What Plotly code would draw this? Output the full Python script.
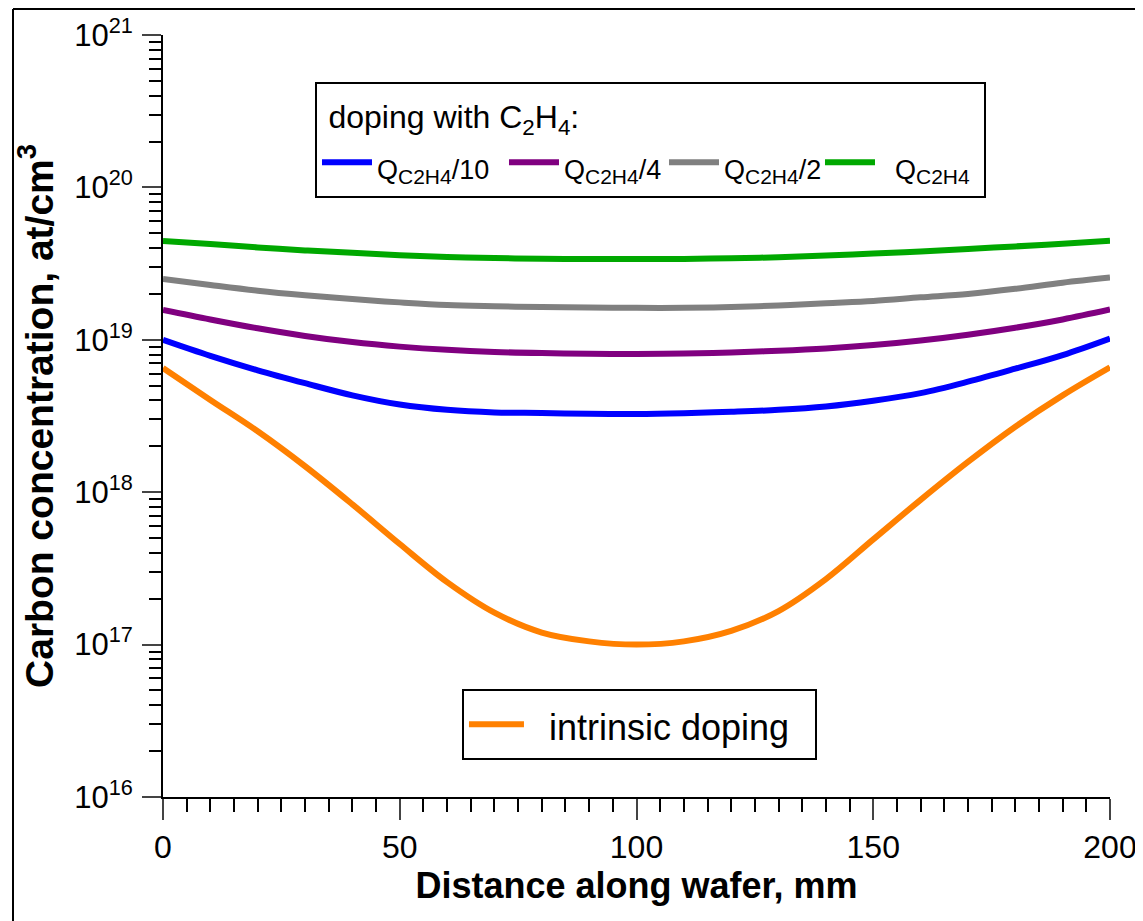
import plotly.graph_objects as go

# ---- data ----
x_mm = [0, 10, 20, 30, 40, 50, 60, 70, 80, 90, 100,
        110, 120, 130, 140, 150, 160, 170, 180, 190, 200]

q_div10 = [1.00e19, 7.85e18, 6.31e18, 5.19e18, 4.32e18, 3.76e18, 3.47e18, 3.34e18, 3.31e18, 3.27e18, 3.26e18,
           3.30e18, 3.37e18, 3.47e18, 3.65e18, 3.98e18, 4.47e18, 5.31e18, 6.46e18, 7.94e18, 1.02e19]
q_div4 = [1.57e19, 1.36e19, 1.19e19, 1.06e19, 9.66e18, 9.02e18, 8.59e18, 8.32e18, 8.18e18, 8.11e18, 8.07e18,
          8.13e18, 8.26e18, 8.47e18, 8.77e18, 9.23e18, 9.89e18, 1.08e19, 1.20e19, 1.36e19, 1.58e19]
q_div2 = [2.51e19, 2.29e19, 2.10e19, 1.96e19, 1.85e19, 1.76e19, 1.69e19, 1.66e19, 1.64e19, 1.63e19, 1.62e19,
          1.62e19, 1.64e19, 1.68e19, 1.74e19, 1.80e19, 1.90e19, 2.00e19, 2.16e19, 2.37e19, 2.56e19]
q_full = [4.45e19, 4.25e19, 4.04e19, 3.86e19, 3.72e19, 3.59e19, 3.50e19, 3.44e19, 3.40e19, 3.39e19, 3.39e19,
          3.39e19, 3.43e19, 3.48e19, 3.57e19, 3.68e19, 3.80e19, 3.95e19, 4.10e19, 4.27e19, 4.47e19]
intrinsic = [6.53e18, 4.03e18, 2.51e18, 1.48e18, 8.32e17, 4.57e17, 2.57e17, 1.62e17, 1.20e17, 1.05e17, 1.00e17,
             1.05e17, 1.23e17, 1.66e17, 2.69e17, 4.90e17, 8.91e17, 1.58e18, 2.69e18, 4.32e18, 6.60e18]

SUB = "<sub><span style='font-size:21px'>C2H4</span></sub>"
series_names = ["Q" + SUB + "/10", "Q" + SUB + "/4", "Q" + SUB + "/2", "\u00a0\u00a0Q" + SUB]
series_values = [q_div10, q_div4, q_div2, q_full]
series_colors = ["#0000FF", "#800080", "#808080", "#00A800"]
series_entry_px = [122, 95, 91, 99]

x_tickvals = [0, 50, 100, 150, 200]
y_exponents = [16, 17, 18, 19, 20, 21]

FONT = "Liberation Sans, Arial, sans-serif"

fig = go.Figure()
for name, vals, col, lw in zip(series_names, series_values, series_colors, series_entry_px):
    fig.add_trace(go.Scatter(x=x_mm, y=vals, mode="lines",
                             name="<span style='font-size:27px'>" + name + "</span>",
                             line=dict(color=col, width=6, shape="spline"),
                             legend="legend", legendwidth=lw))
fig.add_trace(go.Scatter(x=x_mm, y=intrinsic, mode="lines",
                         name="<span style='font-size:36px'>\u00a0\u00a0intrinsic doping\u00a0\u00a0</span>",
                         line=dict(color="#FF8000", width=6, shape="spline"),
                         legend="legend2"))

y_major = [10.0 ** e for e in y_exponents]
y_text = ["10<sup>%d</sup>" % e for e in y_exponents]
y_minor = [k * 10.0 ** e for e in y_exponents[:-1] for k in range(2, 10)]

# the page body adds an 8 px offset, so the figure is 8 px smaller
W, H = 1135, 913
L, R, T, B = 155, 33, 27, 124

fig.update_layout(
    width=W, height=H,
    margin=dict(l=L, r=R, t=T, b=B),
    paper_bgcolor="white", plot_bgcolor="white",
    font=dict(family=FONT, color="black"),
    xaxis=dict(range=[0, 200], tickvals=x_tickvals, ticks="outside", ticklen=21, tickwidth=2,
               showline=True, linecolor="black", linewidth=2, showgrid=False, zeroline=False,
               tickfont=dict(size=32, family=FONT), ticklabelstandoff=0, automargin=False,
               minor=dict(dtick=5, ticks="outside", ticklen=13, tickwidth=2, tickcolor="black", showgrid=False),
               title=dict(text="<b>Distance along wafer, mm</b>", font=dict(size=36, family=FONT), standoff=0)),
    yaxis=dict(type="log", range=[16, 21], tickvals=y_major, ticktext=y_text,
               ticks="outside", ticklen=19, tickwidth=2,
               showline=True, linecolor="black", linewidth=2, showgrid=False, zeroline=False,
               tickfont=dict(size=31, family=FONT), ticklabelstandoff=3, automargin=False,
               minor=dict(tickvals=y_minor, ticks="outside", ticklen=12, tickwidth=2, tickcolor="black", showgrid=False),
               title=dict(text="<b>Carbon concentration, at/cm<sup>3</sup></b>", font=dict(size=39, family=FONT), standoff=9)),
    legend=dict(x=0.1605, y=0.938, xanchor="left", yanchor="top", orientation="h",
                bordercolor="black", borderwidth=2, bgcolor="white",
                font=dict(size=42, family=FONT), itemwidth=50,
                title=dict(text=" <span style='font-size:32px'>doping with C<sub>2</sub>H<sub>4</sub>:</span>",
                           side="top", font=dict(size=34, family=FONT))),
    legend2=dict(x=0.3157, y=0.1417, xanchor="left", yanchor="top",
                 bordercolor="black", borderwidth=2, bgcolor="white",
                 font=dict(size=41, family=FONT), itemwidth=55),
    showlegend=True,
)

# outer frame of the original figure (left and top edges), given in page pixels
px_l, px_r, px_t, px_b = L, W - R, T, H - B
def fx(px):
    return (px - 8 - px_l) / (px_r - px_l)
def fy(py):
    return (px_b - (py - 8)) / (px_b - px_t)
fig.add_shape(type="line", xref="paper", yref="paper", x0=fx(13), x1=fx(13), y0=fy(9), y1=fy(930),
              line=dict(color="black", width=2))
fig.add_shape(type="line", xref="paper", yref="paper", x0=fx(13), x1=fx(1150), y0=fy(9), y1=fy(9),
              line=dict(color="black", width=2))

fig.write_html("out.html")
